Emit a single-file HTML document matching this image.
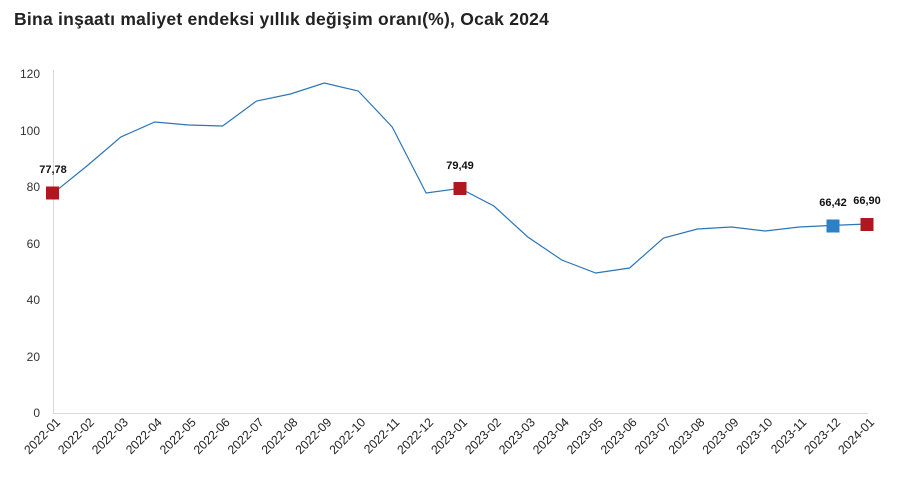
<!DOCTYPE html>
<html><head><meta charset="utf-8"><style>
body{margin:0;background:#fff;}
svg{display:block;font-family:"Liberation Sans",sans-serif;}
</style></head><body>
<svg width="901" height="490" viewBox="0 0 901 490">
<text x="14" y="25" font-size="17.5" font-weight="bold" fill="#222" letter-spacing="0.25">Bina inşaatı maliyet endeksi yıllık değişim oranı(%), Ocak 2024</text>
<line x1="53.5" y1="70" x2="53.5" y2="413.5" stroke="#d9d9d9"/>
<line x1="53" y1="413.5" x2="868" y2="413.5" stroke="#d9d9d9"/>
<g font-size="12" fill="#333" text-anchor="end">
<text x="40" y="417">0</text><text x="40" y="361">20</text><text x="40" y="304">40</text><text x="40" y="248">60</text><text x="40" y="191">80</text><text x="40" y="135">100</text><text x="40" y="78">120</text>
</g>
<polyline fill="none" stroke="#2e75b6" stroke-width="1.2" points="53,193.3 86.9,166 120.8,137 154.75,122 188.7,125 222.6,126 256.5,101 290.4,94 324.3,83 358.25,91 392.2,127 426.1,193 460,188.4 493.9,206 527.8,237 561.75,260 595.7,273 629.6,268 663.5,238 697.4,229 731.3,227 765.25,231 799.2,227 833.1,225.4 867,224"/>
<rect x="46" y="186.5" width="13" height="13" fill="#b0171f"/>
<rect x="453.5" y="182" width="13" height="13" fill="#b0171f"/>
<rect x="826.5" y="219.5" width="13" height="13" fill="#2e80c4"/>
<rect x="860.5" y="218" width="13" height="13" fill="#b0171f"/>
<g font-size="11" font-weight="bold" fill="#111" text-anchor="middle">
<text x="53" y="173">77,78</text><text x="460" y="169">79,49</text><text x="833" y="206">66,42</text><text x="867" y="204">66,90</text>
</g>
<g font-size="12.3" fill="#222" text-anchor="end">
<text transform="translate(61,423) rotate(-45)">2022-01</text>
<text transform="translate(94.9,423) rotate(-45)">2022-02</text>
<text transform="translate(128.8,423) rotate(-45)">2022-03</text>
<text transform="translate(162.75,423) rotate(-45)">2022-04</text>
<text transform="translate(196.7,423) rotate(-45)">2022-05</text>
<text transform="translate(230.6,423) rotate(-45)">2022-06</text>
<text transform="translate(264.5,423) rotate(-45)">2022-07</text>
<text transform="translate(298.4,423) rotate(-45)">2022-08</text>
<text transform="translate(332.3,423) rotate(-45)">2022-09</text>
<text transform="translate(366.25,423) rotate(-45)">2022-10</text>
<text transform="translate(400.2,423) rotate(-45)">2022-11</text>
<text transform="translate(434.1,423) rotate(-45)">2022-12</text>
<text transform="translate(468,423) rotate(-45)">2023-01</text>
<text transform="translate(501.9,423) rotate(-45)">2023-02</text>
<text transform="translate(535.8,423) rotate(-45)">2023-03</text>
<text transform="translate(569.75,423) rotate(-45)">2023-04</text>
<text transform="translate(603.7,423) rotate(-45)">2023-05</text>
<text transform="translate(637.6,423) rotate(-45)">2023-06</text>
<text transform="translate(671.5,423) rotate(-45)">2023-07</text>
<text transform="translate(705.4,423) rotate(-45)">2023-08</text>
<text transform="translate(739.3,423) rotate(-45)">2023-09</text>
<text transform="translate(773.25,423) rotate(-45)">2023-10</text>
<text transform="translate(807.2,423) rotate(-45)">2023-11</text>
<text transform="translate(841.1,423) rotate(-45)">2023-12</text>
<text transform="translate(875,423) rotate(-45)">2024-01</text>
</g>
</svg>
</body></html>
